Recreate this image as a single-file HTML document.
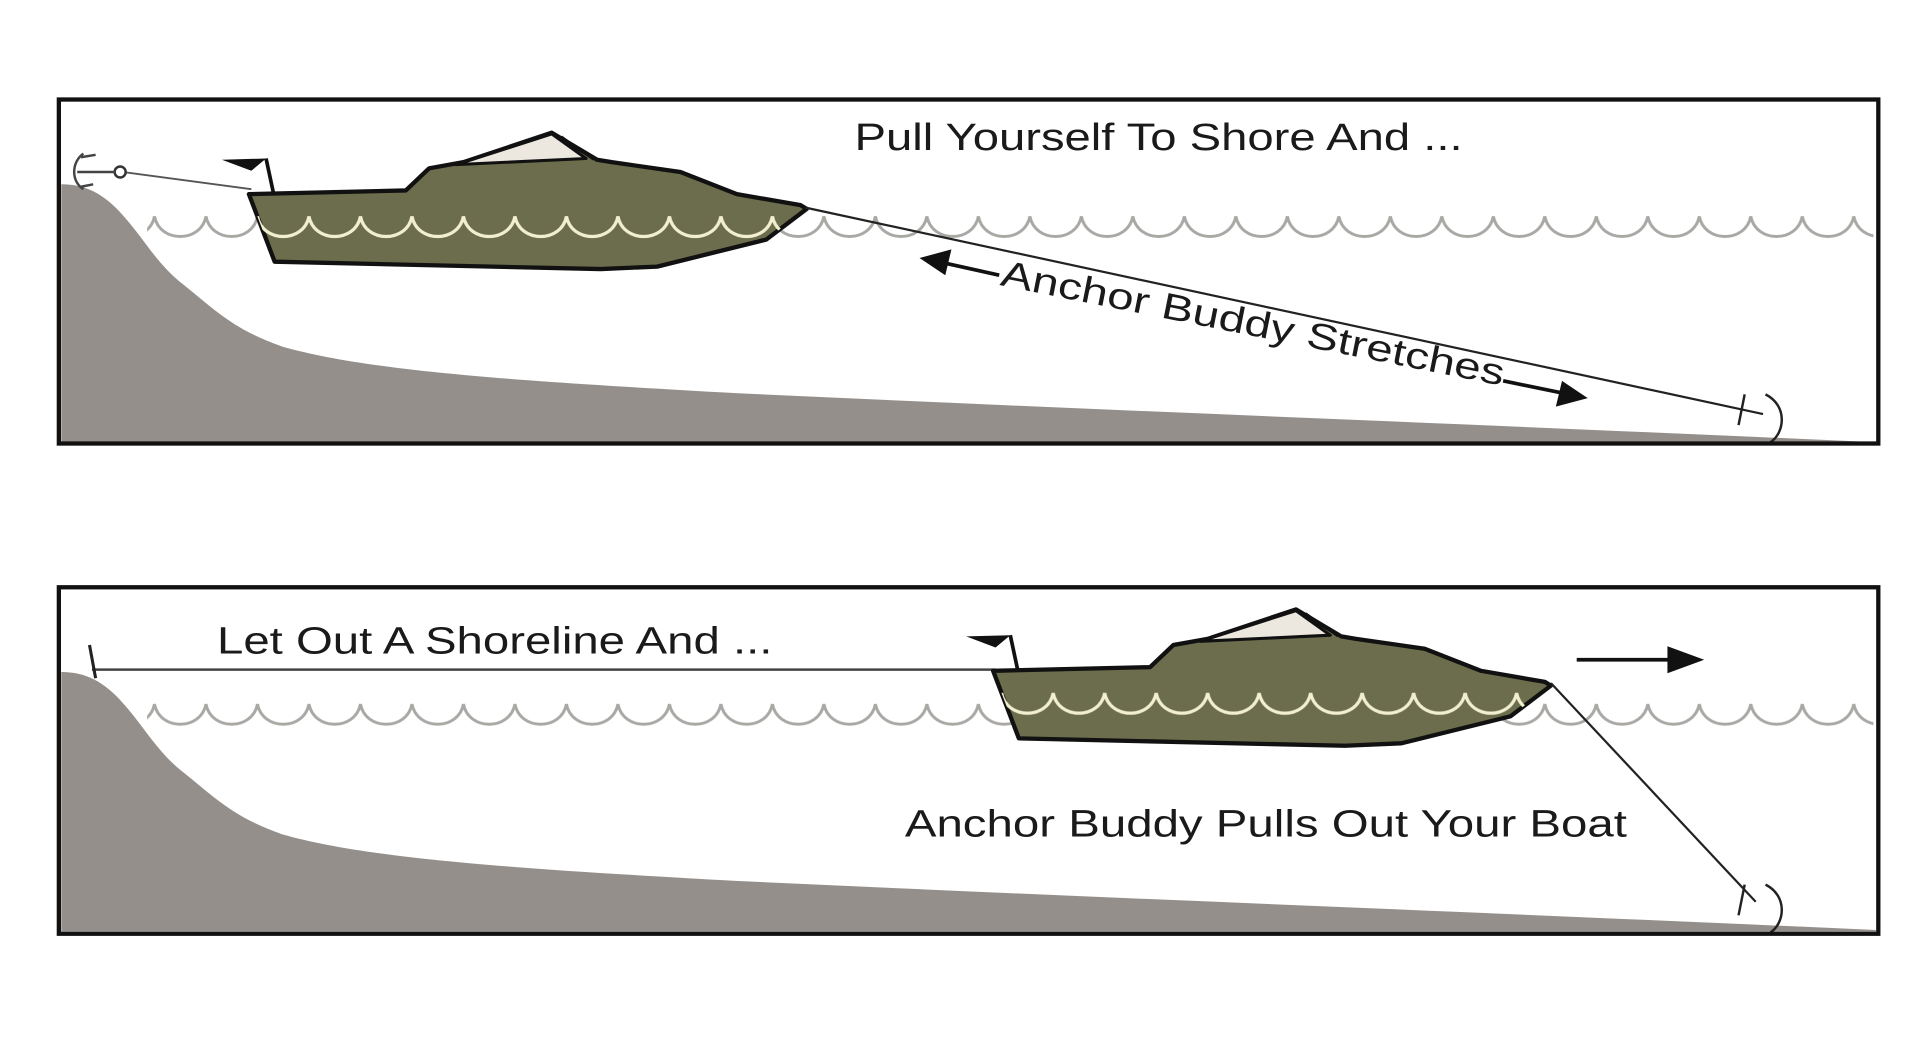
<!DOCTYPE html>
<html><head><meta charset="utf-8"><style>
html,body{margin:0;padding:0;background:#fff;}
svg{display:block;}
text{font-family:"Liberation Sans",Arial,sans-serif;fill:#1a1a1a;}
</style></head><body>
<svg width="1920" height="1048" viewBox="0 0 1566 853" preserveAspectRatio="none" xmlns="http://www.w3.org/2000/svg">
<defs>
  <pattern id="wg" x="0" y="0" width="42" height="30" patternUnits="userSpaceOnUse">
    <path d="M0,5 C4,27 38,27 42,5" fill="none" stroke="#aaa8a5" stroke-width="2.4"/>
  </pattern>
  <pattern id="wl" x="0" y="0" width="42" height="30" patternUnits="userSpaceOnUse">
    <path d="M0,5 C4,27 38,27 42,5" fill="none" stroke="#f1efcf" stroke-width="2.6"/>
  </pattern>
  <path id="hull" d="M203,158 L331,155 L350,137 L378,132 L450,108 L487,130 L499,132 L555,140 L601,158 L653,167 L658,170 L625,195 L536,217 L490,219 L224,213 Z"/>
  <clipPath id="hc"><use href="#hull"/></clipPath>
  <g id="boat">
    <path d="M217,129 L181,130 L205,139 Z" fill="#111"/>
    <line x1="217" y1="129" x2="223" y2="157" stroke="#111" stroke-width="3"/>
    <use href="#hull" fill="#6c6d4c" stroke="#111" stroke-width="3.5" stroke-linejoin="round"/>
    <g clip-path="url(#hc)"><g transform="translate(0,171)"><rect x="0" y="0" width="700" height="30" fill="url(#wl)"/></g></g>
    <path d="M372,134 L450,109 L478,129 Z" fill="#ece8df" stroke="#111" stroke-width="2.5" stroke-linejoin="round"/>
    <line x1="458" y1="111" x2="484" y2="130" stroke="#111" stroke-width="1.5"/>
  </g>
</defs>

<!-- Panel 1 -->
<rect x="48" y="81" width="1484" height="280" fill="#fff"/>
<g transform="translate(0,171)"><rect x="120" y="0" width="1408" height="30" fill="url(#wg)"/></g>
<path d="M50,150 C70,150 85,158 100,175 C118,195 128,215 150,232 C175,252 190,268 230,282 C300,302 420,310 600,320 C900,334 1200,345 1530,360 L1530,361 L50,361 Z" fill="#958f8b"/>
<line x1="100" y1="140" x2="205" y2="154" stroke="#555" stroke-width="1.5"/>
<circle cx="98" cy="140" r="4.5" fill="#fff" stroke="#333" stroke-width="2"/>
<path d="M68,125 C58,132 58,148 68,154 M63,140 L94,140 M66,128 L78,126 M66,152 L76,150" fill="none" stroke="#444" stroke-width="2"/>
<use href="#boat"/>
<line x1="657" y1="169" x2="1438" y2="337" stroke="#222" stroke-width="1.8"/>
<g stroke="#222" stroke-width="2" fill="none">
  <line x1="1423" y1="321" x2="1418" y2="346"/>
  <path d="M1440,321 C1458,330 1456,352 1444,360"/>
</g>
<rect x="48" y="81" width="1484" height="280" fill="none" stroke="#111" stroke-width="3.5"/>
<text x="697" y="122" font-size="31" textLength="496" lengthAdjust="spacingAndGlyphs">Pull Yourself To Shore And ...</text>
<text transform="translate(815,232) rotate(11.3)" x="0" y="0" font-size="30" textLength="418" lengthAdjust="spacingAndGlyphs">Anchor Buddy Stretches</text>
<g fill="#111" stroke="#111" stroke-width="3">
  <line x1="815" y1="224" x2="770" y2="214"/>
  <path d="M750,210 L776,203 L771,224 Z" stroke="none"/>
  <line x1="1226" y1="310" x2="1275" y2="320"/>
  <path d="M1295,324 L1269,331 L1274,310 Z" stroke="none"/>
</g>

<!-- Panel 2 -->
<rect x="48" y="478" width="1484" height="282" fill="#fff"/>
<g transform="translate(0,568)"><rect x="120" y="0" width="1408" height="30" fill="url(#wg)"/></g>
<path d="M50,547 C70,547 85,555 100,572 C118,592 128,612 150,629 C175,649 190,665 230,679 C300,699 420,707 600,717 C900,731 1200,742 1530,757 L1530,758 L50,758 Z" fill="#958f8b"/>
<line x1="75" y1="545" x2="812" y2="545" stroke="#444" stroke-width="2"/>
<line x1="73" y1="525" x2="78" y2="552" stroke="#222" stroke-width="2.5"/>
<g transform="translate(607,388)"><use href="#boat"/></g>
<line x1="1265" y1="556" x2="1432" y2="734" stroke="#222" stroke-width="1.8"/>
<g stroke="#222" stroke-width="2" fill="none">
  <line x1="1423" y1="720" x2="1418" y2="745"/>
  <path d="M1440,720 C1458,729 1456,751 1444,759"/>
</g>
<rect x="48" y="478" width="1484" height="282" fill="none" stroke="#111" stroke-width="3.5"/>
<text x="177" y="532" font-size="31" textLength="453" lengthAdjust="spacingAndGlyphs">Let Out A Shoreline And ...</text>
<text x="738" y="681" font-size="31" textLength="589" lengthAdjust="spacingAndGlyphs">Anchor Buddy Pulls Out Your Boat</text>
<g fill="#111" stroke="#111" stroke-width="3">
  <line x1="1286" y1="537" x2="1365" y2="537"/>
  <path d="M1390,537 L1360,526 L1360,548 Z" stroke="none"/>
</g>
</svg>
</body></html>
